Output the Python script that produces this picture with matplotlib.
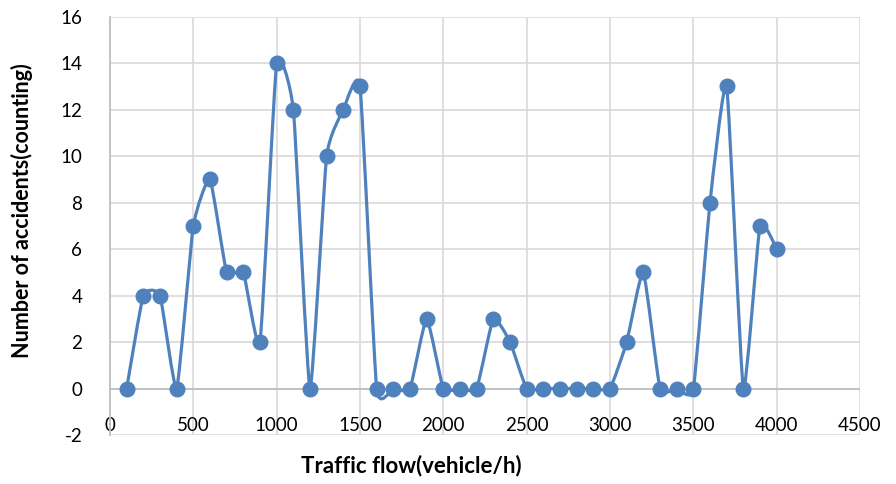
import matplotlib
matplotlib.use('Agg')
import matplotlib.pyplot as plt
from matplotlib.path import Path
from matplotlib.patches import PathPatch

plt.rcParams['font.family'] = ['Lato', 'DejaVu Sans']
plt.rcParams['axes.unicode_minus'] = False

# traffic flow (vehicle/h) and accident counts
flow = [100, 200, 300, 400, 500, 600, 700, 800, 900, 1000,
        1100, 1200, 1300, 1400, 1500, 1600, 1700, 1800, 1900, 2000,
        2100, 2200, 2300, 2400, 2500, 2600, 2700, 2800, 2900, 3000,
        3100, 3200, 3300, 3400, 3500, 3600, 3700, 3800, 3900, 4000]
accidents = [0, 4, 4, 0, 7, 9, 5, 5, 2, 14,
             12, 0, 10, 12, 13, 0, 0, 0, 3, 0,
             0, 0, 3, 2, 0, 0, 0, 0, 0, 0,
             2, 5, 0, 0, 0, 8, 13, 0, 7, 6]
xticks = [0, 500, 1000, 1500, 2000, 2500, 3000, 3500, 4000, 4500]
yticks = [-2, 0, 2, 4, 6, 8, 10, 12, 14, 16]

blue = '#4f81bd'

fig = plt.figure(figsize=(8.96, 4.84), dpi=100)
ax = fig.add_axes([110 / 896, 1 - 435 / 484, 750 / 896, 418.3 / 484])

# smoothed line like excel: bezier segments through the points (mild tension)
k = 13.0
verts = [(flow[0], accidents[0])]
codes = [Path.MOVETO]
n = len(flow)
for i in range(n - 1):
    x0, y0 = flow[max(i - 1, 0)], accidents[max(i - 1, 0)]
    x1, y1 = flow[i], accidents[i]
    x2, y2 = flow[i + 1], accidents[i + 1]
    x3, y3 = flow[min(i + 2, n - 1)], accidents[min(i + 2, n - 1)]
    c1 = (x1 + (x2 - x0) / k, y1 + (y2 - y0) / k)
    c2 = (x2 - (x3 - x1) / k, y2 - (y3 - y1) / k)
    verts += [c1, c2, (x2, y2)]
    codes += [Path.CURVE4] * 3
ax.add_patch(PathPatch(Path(verts, codes), fill=False, edgecolor=blue,
                       lw=2.3, capstyle='round', joinstyle='round', zorder=3))
ax.plot(flow, accidents, linestyle='none', marker='o', markersize=10.5,
        color=blue, zorder=4)

ax.set_xlim(0, 4500)
ax.set_ylim(-2, 16)
ax.set_xticks(xticks)
ax.set_yticks(yticks)
ax.grid(True, color='#d9d9d9', lw=1.2)
ax.set_axisbelow(True)
ax.axhline(0, color='#bfbfbf', lw=1.3, zorder=2)

for s in ['top', 'right', 'bottom']:
    ax.spines[s].set_visible(False)
ax.spines['left'].set_color('#bfbfbf')
ax.spines['left'].set_linewidth(1.3)

ax.tick_params(axis='both', length=0, labelsize=13.5, colors='#000000')
ax.tick_params(axis='x', pad=-13)
ax.tick_params(axis='y', pad=20)

fig.text(411 / 896, 1 - 466 / 484, 'Traffic flow(vehicle/h)', ha='center',
         va='center', fontsize=16, fontweight='bold')
fig.text(22 / 896, 1 - 211 / 484, 'Number of accidents(counting)', ha='center',
         va='center', rotation=90, fontsize=15.5, fontweight='bold')

fig.savefig('out.png', dpi=100)
